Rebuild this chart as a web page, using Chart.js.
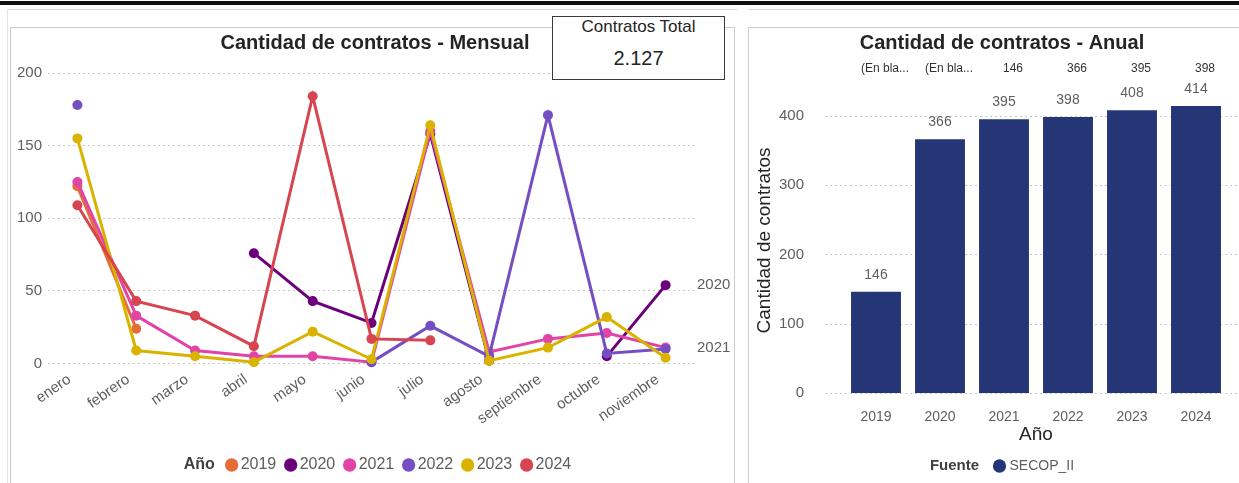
<!DOCTYPE html>
<html>
<head>
<meta charset="utf-8">
<script src="https://cdn.jsdelivr.net/npm/chart.js@4.4.1/dist/chart.umd.min.js"></script>
<style>
  html, body { margin: 0; padding: 0; background: #fff; }
  body { width: 1239px; height: 483px; overflow: hidden; position: relative;
         font-family: 'Segoe UI', 'Liberation Sans', Arial, sans-serif; }
  .abs { position: absolute; }
  #topBar { left: 0; top: 1px; width: 1239px; height: 4px; background: #111; }
  .hline { top: 9px; height: 1px; background: #d4d4d4; }
  #outerL { left: 7px; top: 9px; width: 1px; height: 480px; background: #e4e4e4; }
  #panelL { left: 10px; top: 27px; width: 723px; height: 470px; border: 1px solid #cdcdcd; }
  #panelR { left: 748px; top: 27px; width: 520px; height: 470px; border: 1px solid #cdcdcd; }
  #chartL { left: 11px; top: 28px; }
  #chartR { left: 749px; top: 28px; }
  #card { left: 552px; top: 16px; width: 171px; height: 62px; border: 1.5px solid #3a3a3a;
          background: #fff; text-align: center; color: #252423; z-index: 5; }
  #card .t { font-size: 17px; line-height: 20px; margin-top: 0px; }
  #card .v { font-size: 20px; line-height: 24px; margin-top: 9px; }
</style>
</head>
<body>
<div id="topBar" class="abs"></div>
<div class="abs hline" style="left:7px;width:730px"></div>
<div class="abs hline" style="left:749px;width:490px"></div>
<div id="outerL" class="abs"></div>
<div id="panelL" class="abs"></div>
<div id="panelR" class="abs"></div>
<canvas id="chartL" class="abs" width="728" height="455"></canvas>
<canvas id="chartR" class="abs" width="506" height="455"></canvas>
<div id="card" class="abs"><div class="t">Contratos Total</div><div class="v">2.127</div></div>

<script>
const FONT = "'Segoe UI', 'Liberation Sans', Arial, sans-serif";

// monthly chart
const months = ['enero', 'febrero', 'marzo', 'abril', 'mayo', 'junio', 'julio', 'agosto', 'septiembre', 'octubre', 'noviembre'];
const years = ['2019', '2020', '2021', '2022', '2023', '2024'];
const yearColors = ['#E66C37', '#6B007B', '#E044A7', '#744EC2', '#D9B300', '#D64550'];
const m2019 = [122, 24, null, null, null, null, null, null, null, null, null];
const m2020 = [null, null, null, 76, 43, 28, 158, 2, null, 5, 54];
const m2021 = [125, 33, 9, 5, 5, 1, 160, 8, 17, 21, 11];
const m2022 = [178, null, null, null, null, 1, 26, 5, 171, 7, 10];
const m2023 = [155, 9, 5, 1, 22, 3, 164, 2, 11, 32, 4];
const m2024 = [109, 43, 33, 12, 184, 17, 16, null, null, null, null];
const monthlyTicks = [0, 50, 100, 150, 200];
const endLabelYears = ['2020', '2021'];

// yearly chart
const yearTotals = [146, 366, 395, 398, 408, 414];
const topRowLabels = ['(En bla...', '(En bla...', '146', '366', '395', '398'];
const barColor = '#243676';
const source = 'SECOP_II';

Chart.defaults.font.family = FONT;
Chart.defaults.animation = false;

const tickColor = '#605E5C';
const darkText = '#252423';

// bold heading written in front of the legend items (like "Año" / "Fuente")
const legendHeading = {
  id: 'legendHeading',
  afterDraw(chart, args, opts) {
    const lg = chart.legend;
    if (!lg || !lg.legendHitBoxes || !lg.legendHitBoxes.length) return;
    const hb = lg.legendHitBoxes[0];
    const ctx = chart.ctx;
    ctx.save();
    ctx.font = `bold ${opts.size}px ${FONT}`;
    ctx.fillStyle = opts.color;
    ctx.textAlign = 'left';
    ctx.textBaseline = 'middle';
    ctx.fillText(opts.text, hb.left + opts.dx, hb.top + hb.height / 2);
    ctx.restore();
  }
};

const makeLegendItems = (heading, colorOf) => (chart) => {
  const blank = 'rgba(0,0,0,0)';
  const items = [{ text: heading, fillStyle: blank, strokeStyle: blank, lineWidth: 0,
                   pointStyle: 'circle', fontColor: blank, hidden: false, datasetIndex: -1 }];
  chart.data.datasets.forEach((ds, i) => {
    items.push({ text: ds.label, fillStyle: colorOf(ds), strokeStyle: colorOf(ds), lineWidth: 0,
                 pointStyle: 'circle', fontColor: tickColor, hidden: false, datasetIndex: i });
  });
  return items;
};

// year names at the end of some lines
const endLabels = {
  id: 'endLabels',
  afterDatasetsDraw(chart) {
    const ctx = chart.ctx, area = chart.chartArea;
    ctx.save();
    ctx.font = `15px ${FONT}`;
    ctx.fillStyle = tickColor;
    ctx.textAlign = 'left';
    ctx.textBaseline = 'middle';
    chart.data.datasets.forEach((ds, i) => {
      if (!endLabelYears.includes(ds.label)) return;
      let k = ds.data.length - 1;
      while (k >= 0 && ds.data[k] == null) k--;
      const pt = chart.getDatasetMeta(i).data[k];
      ctx.fillText(ds.label, area.right + 2, pt.y);
    });
    ctx.restore();
  }
};

const monthlySeries = [m2019, m2020, m2021, m2022, m2023, m2024];

new Chart(document.getElementById('chartL'), {
  type: 'line',
  data: {
    labels: months,
    datasets: years.map((y, i) => ({
      label: y,
      data: monthlySeries[i],
      borderColor: yearColors[i],
      backgroundColor: yearColors[i],
      pointBackgroundColor: yearColors[i],
      borderWidth: 3,
      pointRadius: 5,
      pointHoverRadius: 5,
      pointBorderWidth: 0,
      tension: 0,
      spanGaps: false,
      clip: false,
      order: years.length - i
    }))
  },
  options: {
    responsive: false,
    layout: { padding: 0 },
    plugins: {
      title: {
        display: true, text: 'Cantidad de contratos - Mensual', color: darkText,
        font: { size: 20, weight: 'bold' }, padding: { top: 3, bottom: 18 }
      },
      legend: {
        position: 'bottom', align: 'center', onClick: null,
        labels: {
          usePointStyle: true, boxWidth: 2, boxHeight: 9.4, padding: 13.4,
          font: { size: 16 }, color: tickColor,
          generateLabels: makeLegendItems('Año', ds => ds.borderColor)
        }
      },
      legendHeading: { text: 'Año', size: 16, color: '#404040', dx: 5 },
      tooltip: { enabled: false }
    },
    scales: {
      x: {
        offset: true,
        grid: { display: false },
        border: { display: false },
        ticks: { color: tickColor, font: { size: 15 }, autoSkip: false, minRotation: 35, maxRotation: 35,
                 padding: -1, labelOffset: -8 },
        afterFit: s => { s.height = 80; }
      },
      y: {
        min: 0, max: 200,
        afterBuildTicks: s => { s.ticks = monthlyTicks.map(v => ({ value: v })); },
        grid: { color: '#c8c8c8', drawTicks: false, lineWidth: 1 },
        border: { display: false, dash: [2, 3] },
        ticks: { color: tickColor, font: { size: 15 }, padding: 6 },
        afterFit: s => { s.width = 37; }
      },
      yEnd: {
        type: 'linear', position: 'right', display: true,
        grid: { display: false }, border: { display: false }, ticks: { display: false },
        afterFit: s => { s.width = 44; }
      }
    }
  },
  plugins: [endLabels, legendHeading]
});

// yearly bar chart
const barGrid = {
  id: 'barGrid',
  beforeDatasetsDraw(chart) {
    const ys = chart.scales.y, area = chart.chartArea, ctx = chart.ctx;
    ctx.save();
    ctx.strokeStyle = '#c8c8c8';
    ctx.lineWidth = 1;
    ctx.setLineDash([2, 3]);
    ys.ticks.forEach(t => {
      const py = Math.round(ys.getPixelForValue(t.value)) + 0.5;
      ctx.beginPath();
      ctx.moveTo(area.left - 19, py);
      ctx.lineTo(chart.width, py);
      ctx.stroke();
    });
    ctx.restore();
  }
};

const barLabels = {
  id: 'barLabels',
  afterDatasetsDraw(chart) {
    const ctx = chart.ctx, area = chart.chartArea;
    const meta = chart.getDatasetMeta(0);
    ctx.save();
    ctx.textAlign = 'center';
    ctx.textBaseline = 'middle';
    ctx.font = `14px ${FONT}`;
    ctx.fillStyle = tickColor;
    meta.data.forEach((bar, i) => ctx.fillText(String(yearTotals[i]), bar.x, bar.y - 17));
    ctx.font = `12px ${FONT}`;
    ctx.fillStyle = '#333';
    meta.data.forEach((bar, i) => ctx.fillText(topRowLabels[i], bar.x + 9, area.top - 19));
    ctx.restore();
  }
};

new Chart(document.getElementById('chartR'), {
  type: 'bar',
  data: {
    labels: years,
    datasets: [{
      label: source,
      data: yearTotals,
      backgroundColor: barColor,
      borderWidth: 0,
      barPercentage: 0.78,
      categoryPercentage: 1
    }]
  },
  options: {
    responsive: false,
    layout: { padding: 0 },
    plugins: {
      title: {
        display: true, text: 'Cantidad de contratos - Anual', color: darkText,
        font: { size: 20, weight: 'bold' }, padding: { top: 3, bottom: 33 }
      },
      legend: {
        position: 'bottom', align: 'center', onClick: null,
        labels: {
          usePointStyle: true, boxWidth: 6, boxHeight: 9.4, padding: 10,
          font: { size: 14 }, color: tickColor,
          generateLabels: makeLegendItems('Fuente', ds => ds.backgroundColor)
        }
      },
      legendHeading: { text: 'Fuente', size: 15, color: '#404040', dx: 0 },
      tooltip: { enabled: false }
    },
    scales: {
      x: {
        grid: { display: false },
        border: { display: false },
        ticks: { color: tickColor, font: { size: 14 }, padding: 8 },
        title: { display: true, text: 'Año', color: darkText, font: { size: 19 }, padding: { top: 0, bottom: 3 } },
        afterFit: s => { s.height = 56; }
      },
      y: {
        min: 0, max: 440,
        ticks: { stepSize: 100, color: tickColor, font: { size: 15 }, padding: 32 },
        afterBuildTicks: s => { s.ticks = s.ticks.filter(t => t.value % 100 === 0); },
        grid: { display: false },
        border: { display: false },
        title: { display: true, text: 'Cantidad de contratos', color: darkText, font: { size: 19 }, padding: { top: 4.6, bottom: 0 } },
        afterFit: s => { s.width = 95; }
      },
      yEnd: {
        type: 'linear', position: 'right', display: true,
        grid: { display: false }, border: { display: false }, ticks: { display: false },
        afterFit: s => { s.width = 27; }
      }
    }
  },
  plugins: [barGrid, barLabels, legendHeading]
});
</script>
</body>
</html>
